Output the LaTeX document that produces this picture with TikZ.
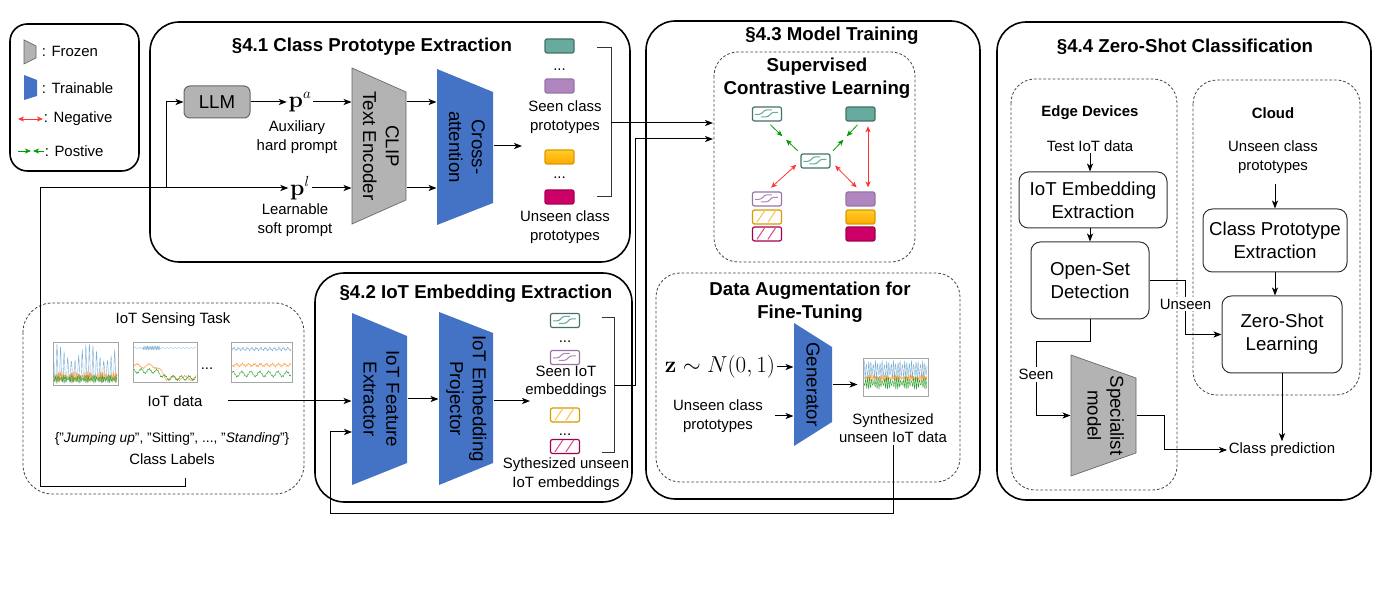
\documentclass[tikz,border=0pt]{standalone}
\usepackage[no-math]{fontspec}
\setmainfont{Liberation Sans}
\usepackage{graphicx}
\usetikzlibrary{arrows.meta,calc}

\definecolor{frozengray}{RGB}{179,179,179}
\definecolor{frozenline}{RGB}{102,102,102}
\definecolor{trainblue}{RGB}{68,114,196}
\definecolor{prototeal}{RGB}{103,171,159}
\definecolor{tealline}{RGB}{68,112,104}
\definecolor{protopurple}{RGB}{176,134,192}
\definecolor{purpleline}{RGB}{150,115,166}
\definecolor{protoorangeA}{RGB}{255,168,0}
\definecolor{protoorangeB}{RGB}{255,205,40}
\definecolor{orangeline}{RGB}{215,155,0}
\definecolor{protomagenta}{RGB}{204,0,102}
\definecolor{magentaline}{RGB}{163,0,79}
\definecolor{negred}{RGB}{255,51,51}
\definecolor{posgreen}{RGB}{0,153,0}
\definecolor{plotblue}{RGB}{31,119,180}
\definecolor{plotorange}{RGB}{255,127,14}
\definecolor{plotgreen}{RGB}{44,160,44}

\newcommand{\txtfont}{\fontsize{11.2}{14}\selectfont}
\newcommand{\bigtxtfont}{\fontsize{14}{17}\selectfont}
\newcommand{\ttlfont}{\bfseries\fontsize{14}{17}\selectfont}
\newcommand{\subttlfont}{\bfseries\fontsize{11.2}{14}\selectfont}
\newcommand{\eqfont}{\fontsize{16}{19}\selectfont}
\newcommand{\lblfont}{\fontsize{10.3}{12.5}\selectfont}

% marks inside the open embedding boxes
\newcommand{\zigmark}[2]{%
  \draw[#2, line width=0.8pt] ($(#1.north west)+(3,8)$) -- ++(4,0) .. controls +(4,0) and +(-4,0) .. ++(8,-4.5) -- ++(5,0);
  \draw[#2, line width=0.8pt] ($(#1.north west)+(9,10.5)$) -- ++(5,0) .. controls +(4,0) and +(-4,0) .. ++(8,-4.5) -- ++(4,0);}
\newcommand{\hatchmark}[2]{%
  \draw[#2, line width=0.8pt] ($(#1.north west)+(5,13)$) -- ++(8,-12);
  \draw[#2, line width=0.8pt] ($(#1.north west)+(16,13)$) -- ++(8,-12);}

\tikzset{every picture/.style={line width=0.75pt},
  txt/.style={font=\txtfont, align=center, inner sep=1pt},
  ttl/.style={font=\ttlfont, align=center, inner sep=1pt},
  subttl/.style={font=\subttlfont, align=center, inner sep=1pt},
  eqtxt/.style={font=\eqfont, inner sep=1pt},
  section/.style={draw=black, line width=1.2pt, rounded corners=22pt},
  legendbox/.style={draw=black, line width=1.2pt, rounded corners=13pt},
  dashbox/.style={draw=black!75, line width=0.6pt, dash pattern=on 2pt off 1.5pt, rounded corners=18pt},
  frozen/.style={fill=frozengray, draw=frozenline, line width=0.5pt},
  trainable/.style={fill=trainblue},
  trapnode/.style={inner sep=0pt, font=\bigtxtfont},
  llmbox/.style={draw=frozenline, fill=frozengray, rounded corners=4.5pt, minimum width=49.5pt, minimum height=24pt, font=\bigtxtfont},
  procbox/.style={draw=black!80, rounded corners=7pt, font=\bigtxtfont, align=center, inner sep=2pt},
  emb/.style={minimum width=21.75pt, minimum height=10.5pt, inner sep=0pt, rounded corners=1.5pt, line width=0.9pt},
  tealbox/.style={emb, fill=prototeal, draw=tealline},
  purplebox/.style={emb, fill=protopurple, draw=purpleline},
  orangebox/.style={emb, top color=protoorangeB, bottom color=protoorangeA, draw=orangeline},
  magentabox/.style={emb, fill=protomagenta, draw=magentaline},
  openbox/.style={emb, fill=white, draw=#1},
  conn/.style={-{Stealth[length=6pt,width=4.6pt,inset=1.6pt]}},
  posarr/.style={draw=posgreen, line width=0.6pt, -{Stealth[length=4.5pt,width=3.8pt,inset=1.2pt]}},
  negarr/.style={draw=negred, line width=0.6pt, {Stealth[length=4.5pt,width=3.8pt,inset=1.2pt]}-{Stealth[length=4.5pt,width=3.8pt,inset=1.2pt]}},
  bracket/.style={draw=black!80},
  edgelbl/.style={txt, fill=white, inner sep=1.5pt},
  plotaxes/.style={draw=black!35, line width=0.25pt},
  sigblue/.style={draw=plotblue!60, line width=0.3pt},
  sigorange/.style={draw=plotorange!80, line width=0.3pt},
  siggreen/.style={draw=plotgreen, line width=0.3pt}}

\begin{document}
\begin{tikzpicture}[x=0.75pt,y=0.75pt,yscale=-1,xscale=1]
\useasboundingbox (0,0) rectangle (1379,598);

%Legend
\draw[legendbox] (10,24) rectangle (139,171);
\fill[frozen] (24,40) -- (36,46) -- (36,58) -- (24,64) -- cycle;
\node[txt, anchor=west] (lgfrozen) at (40,51) {: Frozen};
\fill[trainable] (24,75) -- (37,80) -- (37,96) -- (24,100) -- cycle;
\node[txt, anchor=west] (lgtrain) at (40,88) {: Trainable};
\draw[negarr] (18,119) -- (43,119);
\node[txt, anchor=west] (lgneg) at (42,119) {: Negative};
\draw[posarr] (18,151) -- (31,151);
\draw[posarr] (44,151) -- (33,151);
\node[txt, anchor=west] (lgpos) at (43,151) {: Postive};

%Section 4.1
\draw[section] (150,22) rectangle (630,262);
\node[ttl] (t41) at (372,47) {§4.1 Class Prototype Extraction};
\node[llmbox] (llm) at (217,102) {LLM};
\node[eqtxt] (pa) at (300,102) {$\mathbf{p}^a$};
\node[txt] (aux) at (297,137) {Auxiliary\\hard prompt};
\node[eqtxt] (pl) at (300,188) {$\mathbf{p}^l$};
\node[txt] (learn) at (295,220) {Learnable\\soft prompt};
%Shape: Trapezoid
\fill[frozen] (352,68) -- (406,92) -- (406,200) -- (352,224) -- cycle;
\node[trapnode, minimum width=40.5pt, minimum height=117pt] (clip) at (379,146) {\rotatebox{-90}{\begin{tabular}{@{}c@{}}CLIP\\Text Encoder\end{tabular}}};
%Shape: Trapezoid
\fill[trainable] (437,69) -- (493,92) -- (493,203) -- (437,225) -- cycle;
\node[trapnode, minimum width=42pt, minimum height=117pt] (cross) at (465,147) {\rotatebox{-90}{\begin{tabular}{@{}c@{}}Cross-\\attention\end{tabular}}};
\node[tealbox] (sproto1) at (559.5,46) {};
\node[txt] (sdots) at (559.5,70) {...};
\node[purplebox] (sproto2) at (559.5,86) {};
\node[txt] (seenp) at (565,117) {Seen class\\prototypes};
\node[orangebox] (uproto1) at (559.5,157) {};
\node[txt] (udots) at (559.5,178) {...};
\node[magentabox] (uproto2) at (559.5,197) {};
\node[txt] (unseenp) at (565,227) {Unseen class\\prototypes};
\draw[bracket] (597,48) -| (611,197) -- (597,197);
\coordinate (br1) at (611,123);
\coordinate (protoin) at (522,146);

%Section 4.2
\draw[section] (315,273) rectangle (632,502);
\node[ttl] (t42) at (476,294) {§4.2 IoT Embedding Extraction};
%Shape: Trapezoid
\fill[trainable] (352,313) -- (407,336) -- (407,463) -- (352,485) -- cycle;
\node[trapnode, minimum width=41.25pt, minimum height=129pt] (fext) at (379.5,399) {\rotatebox{-90}{\begin{tabular}{@{}c@{}}IoT Feature\\Extractor\end{tabular}}};
%Shape: Trapezoid
\fill[trainable] (439,312) -- (493,333) -- (493,463) -- (439,485) -- cycle;
\node[trapnode, minimum width=40.5pt, minimum height=129.75pt] (proj) at (466,398.5) {\rotatebox{-90}{\begin{tabular}{@{}c@{}}IoT Embedding\\Projector\end{tabular}}};
\node[openbox=tealline] (semb1) at (565,320.5) {};
\zigmark{semb1}{prototeal}
\node[txt] (sedots) at (565,342) {...};
\node[openbox=purpleline] (semb2) at (565,357.5) {};
\zigmark{semb2}{protopurple}
\node[txt] (seenemb) at (566,382) {Seen IoT\\embeddings};
\node[openbox=orangeline] (uemb1) at (565,415) {};
\hatchmark{uemb1}{protoorangeA!70}
\node[txt] (uedots) at (565,435) {...};
\node[openbox=magentaline] (uemb2) at (565,446.5) {};
\hatchmark{uemb2}{protomagenta!70}
\node[txt] (synemb) at (566,474) {Sythesized unseen\\IoT embeddings};
\draw[bracket] (602,318) -| (614,453) -- (602,453);
\coordinate (br2) at (614,386);
\coordinate (embin) at (530,401);

%Section 4.3
\draw[section] (646,21) rectangle (980,499);
\node[ttl] (t43) at (832,36) {§4.3 Model Training};
\draw[dashbox] (714,52) rectangle (915,262);
\node[ttl] (scltitle) at (817,78) {Supervised\\Contrastive Learning};
\coordinate (sclin1) at (713,123);
\coordinate (sclin2) at (713,139);
\node[openbox=tealline] (pemb) at (767,114) {};
\zigmark{pemb}{prototeal}
\node[tealbox] (pproto) at (860.5,114) {};
\node[openbox=tealline] (qemb) at (815.5,161) {};
\zigmark{qemb}{prototeal}
\node[openbox=purpleline] (nemb1) at (767,199) {};
\zigmark{nemb1}{protopurple}
\node[openbox=orangeline] (nemb2) at (767,217) {};
\hatchmark{nemb2}{protoorangeA!70}
\node[openbox=magentaline] (nemb3) at (767,234) {};
\hatchmark{nemb3}{protomagenta!70}
\node[purplebox] (nproto1) at (860.5,199) {};
\node[orangebox] (nproto2) at (860.5,217) {};
\node[magentabox] (nproto3) at (860.5,234) {};
\draw[posarr] ($(pemb.south)!0.1!(qemb.north west)$) -- ($(pemb.south)!0.46!(qemb.north west)$);
\draw[posarr] ($(pemb.south)!0.92!(qemb.north west)$) -- ($(pemb.south)!0.57!(qemb.north west)$);
\draw[posarr] ($(pproto.south)!0.1!(qemb.north east)$) -- ($(pproto.south)!0.46!(qemb.north east)$);
\draw[posarr] ($(pproto.south)!0.92!(qemb.north east)$) -- ($(pproto.south)!0.57!(qemb.north east)$);
\draw[negarr] ($(qemb.west)!0.12!(nemb1.north)$) -- ($(qemb.west)!0.88!(nemb1.north)$);
\draw[negarr] ($(qemb.east)!0.15!(nproto1.north)$) -- ($(qemb.east)!0.87!(nproto1.north)$);
\draw[negarr, shorten <=3.5pt, shorten >=3pt] ($(pproto.south)!0.5!(pproto.south east)$) -- ($(nproto1.north)!0.5!(nproto1.north east)$);

\draw[dashbox] (656,273) rectangle (960,482);
\node[ttl] (datitle) at (810,302) {Data Augmentation for\\Fine-Tuning};
%Shape: Trapezoid
\fill[trainable] (794,323) -- (832,347) -- (832,422) -- (794,446) -- cycle;
\node[trapnode, minimum width=28.5pt, minimum height=92.25pt] (gen) at (813,384.5) {\rotatebox{-90}{Generator}};
\node[eqtxt] (znoise) at (720,367) {$\mathbf{z}\sim N(0,1)$};
\node[txt] (unsp2) at (718,416) {Unseen class\\prototypes};
\node[inner sep=0pt, minimum width=54pt, minimum height=33pt] (synplot) at (894,378) {};
\begin{scope}[shift={(858,356)}]
\draw[plotaxes] (5,2) rectangle (70,40);
\begin{scope}
\clip (5,2) rectangle (70,40);
\draw[sigblue] plot[domain=6:69, samples=320] (\x,{14+7*sin(\x*160)+2*sin(\x*221)});
\draw[sigorange] plot[domain=6:69, samples=320] (\x,{22+2*sin(\x*199)+1*sin(\x*227)});
\draw[siggreen] plot[domain=6:69, samples=320] (\x,{27+4*sin(\x*173+40)+2*sin(\x*211)});
\end{scope}
\end{scope}
\node[txt] (syntxt) at (893,428) {Synthesized\\unseen IoT data};

%Section 4.4
\draw[section] (997,22) rectangle (1371,500);
\node[ttl] (t44) at (1185,47) {§4.4 Zero-Shot Classification};
\draw[dashbox] (1011,79) rectangle (1177,490);
\node[subttl] (edgetitle) at (1090,113) {Edge Devices};
\node[txt] (testdata) at (1090,146) {Test IoT data};
\node[procbox, minimum width=111pt, minimum height=42pt] (iee) at (1093,200) {IoT Embedding\\Extraction};
\node[procbox, minimum width=88.5pt, minimum height=57.75pt] (osd) at (1090,280.5) {Open-Set\\Detection};
\draw[dashbox] (1193,80) rectangle (1360,395);
\node[subttl] (cloudtitle) at (1273,113) {Cloud};
\node[txt] (unsp3) at (1273,157) {Unseen class\\prototypes};
\node[procbox, minimum width=108pt, minimum height=47.25pt] (cpe) at (1275,240.5) {Class Prototype\\Extraction};
\node[procbox, minimum width=90pt, minimum height=57.75pt] (zsl) at (1282,334.5) {Zero-Shot\\Learning};
%Shape: Trapezoid
\fill[frozen] (1071,355) -- (1136,378) -- (1136,453) -- (1071,476) -- cycle;
\node[trapnode, minimum width=48.75pt, minimum height=90.75pt] (spec) at (1103.5,415.5) {\rotatebox{-90}{\begin{tabular}{@{}c@{}}Specialist\\model\end{tabular}}};
\node[txt] (pred) at (1282,450) {Class prediction};
\coordinate (seenbend) at (1036,342);

%IoT sensing task
\draw[dashbox, rounded corners=22pt] (23,303) rectangle (304,494);
\node[txt] (sensetitle) at (173,320) {IoT Sensing Task};
\begin{scope}[shift={(48,339)}]
\draw[plotaxes] (5,3) rectangle (70,46);
\begin{scope}
\clip (5,3) rectangle (70,46);
\draw[sigblue] plot[domain=6:69, samples=320] (\x,{41-34*abs(sin(\x*50))^4*(0.8+0.2*sin(\x*11))-2*sin(\x*211)});
\draw[sigorange] plot[domain=6:69, samples=320] (\x,{38+3*sin(\x*197)+2*sin(\x*223+40)});
\draw[siggreen] plot[domain=6:69, samples=320] (\x,{40+2.5*sin(\x*181+60)+1.5*sin(\x*229)});
\end{scope}
\end{scope}
\begin{scope}[shift={(128,340)}]
\draw[plotaxes] (5,2) rectangle (69,42);
\begin{scope}
\clip (5,2) rectangle (69,42);
\draw[sigblue] plot[domain=6:68, samples=320] (\x,{8+(\x>15)*(\x<32)*1.8*sin(\x*217)+0.3*sin(\x*90)});
\draw[sigorange] plot[domain=6:68, samples=320] (\x,{26+2*sin(\x*30)+0.7*sin(\x*190)+12*min(1,max(0,(\x-28)/10))});
\draw[siggreen] plot[domain=6:68, samples=320] (\x,{31+2*sin(\x*45+40)+0.7*sin(\x*213)+7*min(1,max(0,(\x-28)/10))});
\end{scope}
\end{scope}
\node[txt] (plotdots) at (207,369) {...};
\begin{scope}[shift={(226,340)}]
\draw[plotaxes] (5,2) rectangle (66,42);
\begin{scope}
\clip (5,2) rectangle (66,42);
\draw[sigblue] plot[domain=6:65, samples=320] (\x,{9+1.2*sin(\x*80)+0.8*sin(\x*203)});
\draw[sigorange] plot[domain=6:65, samples=320] (\x,{25+1.2*sin(\x*60)+0.9*sin(\x*191)});
\draw[siggreen] plot[domain=6:65, samples=320] (\x,{34+2.5*sin(\x*40)+0.8*sin(\x*177)});
\end{scope}
\end{scope}
\node[txt] (iotdata) at (175,401) {IoT data};
\node[txt, font=\lblfont] (lbltxt) at (172,439) {\{"\textit{Jumping up}", "Sitting", ..., "\textit{Standing}"\}};
\node[txt] (clslab) at (172,459) {Class Labels};
\coordinate (lblout) at (185,478);
\coordinate (trunk) at (40,487);
\coordinate (split) at (166,188);
\coordinate (dataout) at (228,401);
\coordinate (fbcorner) at (330,514);
\coordinate (fbin) at (352,432);

%Connectors
\draw[conn] (lblout) |- (trunk) |- (pl.west);
\draw[conn] (split) |- (llm.west);
\draw[conn] (llm) -- (pa);
\draw[conn] (pa.east) -- (pa.east -| clip.west);
\draw[conn] (pl.east) -- (pl.east -| clip.west);
\draw[conn] (clip.east |- pa) -- (cross.west |- pa);
\draw[conn] (clip.east |- pl) -- (cross.west |- pl);
\draw[conn] (cross.east |- protoin) -- (protoin);
\draw[conn] (br1) -- (sclin1);
\draw[conn] (br2) -- ++(21,0) |- (sclin2);
\draw[conn] (dataout) -- (dataout -| fext.west);
\draw[conn] (fext.east) -- (fext.east -| proj.west);
\draw[conn] (proj.east |- embin) -- (embin);
\draw[conn] (syntxt.south) |- (fbcorner) |- (fbin);
\draw[conn] (znoise.east) -- (znoise.east -| gen.west);
\draw[conn, shorten <=8pt] (unsp2.east) -- (unsp2.east -| gen.west);
\draw[conn] (gen.east) -- (gen.east -| synplot.west);
\draw[conn] (testdata.south) -- (testdata.south |- iee.north);
\draw[conn] (iee.south -| osd) -- (osd.north);
\draw[conn] ($(unsp3.south -| cpe)+(0,9)$) -- (cpe.north);
\draw[conn] (cpe.south) -- (cpe.south |- zsl.north);
\draw[conn] (osd.east) -- ++(36,0) |- node[edgelbl, pos=0.22] {Unseen} (zsl.west);
\draw[conn] (osd.south) |- (seenbend) |- node[edgelbl, pos=0.22] {Seen} (spec.west);
\draw[conn] (spec.east) -- ++(28,0) |- (pred.west);
\draw[conn] (zsl.south) -- (zsl.south |- pred.north);

\end{tikzpicture}
\end{document}
